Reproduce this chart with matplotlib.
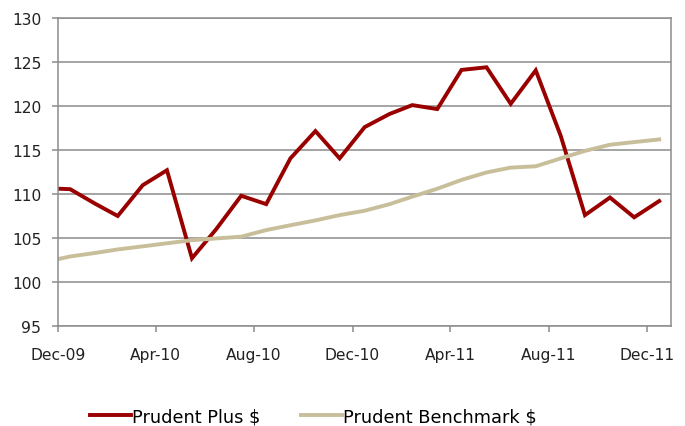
import datetime as dt
import matplotlib
matplotlib.use("Agg")
import matplotlib.pyplot as plt
import matplotlib.dates as mdates

plt.rcParams["font.family"] = ["DejaVu Sans"]

# month-end values, first point is the start date mid Dec-09
dates = ["2009-12-16", "2009-12-31", "2010-01-31", "2010-02-28", "2010-03-31",
         "2010-04-30", "2010-05-31", "2010-06-30", "2010-07-31", "2010-08-31",
         "2010-09-30", "2010-10-31", "2010-11-30", "2010-12-31", "2011-01-31",
         "2011-02-28", "2011-03-31", "2011-04-30", "2011-05-31", "2011-06-30",
         "2011-07-31", "2011-08-31", "2011-09-30", "2011-10-31", "2011-11-30",
         "2011-12-31"]
plus = [110.6, 110.55, 108.9, 107.5, 111.0, 112.7, 102.7, 106.0, 109.8, 108.85,
        114.05, 117.15, 114.05, 117.6, 119.1, 120.1, 119.65, 124.1, 124.4, 120.25,
        124.05, 116.6, 107.6, 109.6, 107.35, 109.2]
bench = [102.6, 102.9, 103.3, 103.7, 104.05, 104.4, 104.75, 104.95, 105.15, 105.9,
         106.45, 107.0, 107.6, 108.1, 108.85, 109.7, 110.6, 111.6, 112.45, 113.0,
         113.15, 114.05, 114.9, 115.6, 115.9, 116.2]
tick_dates = ["2009-12-16", "2010-04-16", "2010-08-16", "2010-12-16",
              "2011-04-16", "2011-08-16", "2011-12-16"]
yticks = [95, 100, 105, 110, 115, 120, 125, 130]

x = [dt.datetime.strptime(d, "%Y-%m-%d") for d in dates]
xt = [dt.datetime.strptime(d, "%Y-%m-%d") for d in tick_dates]

grey = "#8c8c8c"

fig = plt.figure(figsize=(6.85, 4.27), dpi=100)
ax = fig.add_axes([58 / 685, 100 / 427, 612.5 / 685, 308 / 427])

ax.plot(x, plus, color="#990000", lw=2.8, label="Prudent Plus $", solid_joinstyle="miter")
ax.plot(x, bench, color="#c8bf9a", lw=2.8, label="Prudent Benchmark $")

ax.set_ylim(95, 130)
ax.set_yticks(yticks)
ax.set_xlim(dt.datetime(2009, 12, 16), dt.datetime(2012, 1, 14))
ax.set_xticks(xt)
ax.xaxis.set_major_formatter(mdates.DateFormatter("%b-%y"))

ax.grid(axis="y", color=grey, lw=1.1)
ax.set_axisbelow(True)
for s in ax.spines.values():
    s.set_color(grey)
    s.set_linewidth(1.1)

ax.tick_params(axis="both", colors=grey, labelcolor="#222222", labelsize=11.2,
               length=4.5, width=1.1)
ax.tick_params(axis="y", pad=7.5)
ax.tick_params(axis="x", pad=10.5)

fig.legend(loc="center", bbox_to_anchor=(0.458, 0.023), ncol=2, frameon=False,
           fontsize=12.8, handlelength=2.3, handletextpad=0.05, columnspacing=2.3,
           borderaxespad=0, borderpad=0)

fig.savefig("out.png", dpi=100)
